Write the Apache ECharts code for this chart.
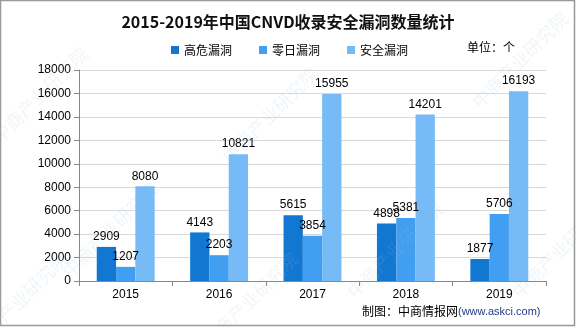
<!DOCTYPE html>
<html>
<head>
<meta charset="utf-8">
<script src="https://cdn.jsdelivr.net/npm/echarts@6/dist/echarts.min.js"></script>
<style>
  html, body { margin: 0; padding: 0; background: #fff; }
  #chart { width: 576px; height: 327px; }
</style>
</head>
<body>
<div id="chart"></div>
<script>
// CNVD vulnerability counts by year
const years = ['2015', '2016', '2017', '2018', '2019'];
const highRisk = [2909, 4143, 5615, 4898, 1877];
const zeroDay = [1207, 2203, 3854, 5381, 5706];
const security = [8080, 10821, 15955, 14201, 16193];
const seriesNames = ['高危漏洞', '零日漏洞', '安全漏洞'];
const colors = ['#1177d1', '#419ef0', '#76baf6'];

const font = '"Noto Sans CJK SC", "Liberation Sans", sans-serif';

function makeSeries(name, values, color) {
  return {
    name: name,
    type: 'bar',
    data: values,
    itemStyle: { color: color },
    barGap: '0%',
    barCategoryGap: '38%',
    label: {
      show: true,
      position: 'top',
      distance: 4,
      color: '#000',
      fontSize: 12,
      fontFamily: '"Liberation Sans", sans-serif'
    }
  };
}

// faint diagonal watermark texts
const marks = [];
const markSpots = [[40, 95], [270, 115], [520, 60], [110, 230], [395, 250], [560, 250], [250, 300], [20, 300]];
markSpots.forEach(function (p) {
  marks.push({
    type: 'text',
    x: p[0], y: p[1],
    rotation: Math.PI / 4,
    style: {
      text: '中商产业研究院',
      fill: 'rgba(160,190,220,0.16)',
      font: '18px ' + font,
      textAlign: 'center',
      textVerticalAlign: 'middle'
    },
    z: 100
  });
});

const chart = echarts.init(document.getElementById('chart'));
chart.setOption({
  animation: false,
  backgroundColor: '#fff',
  title: {
    text: '2015-2019年中国CNVD收录安全漏洞数量统计',
    left: 'center',
    top: 9,
    textStyle: { fontSize: 16, fontWeight: 'bold', color: '#111', fontFamily: font }
  },
  legend: {
    data: seriesNames,
    left: 166,
    top: 39,
    itemWidth: 8,
    itemHeight: 8,
    itemGap: 27,
    icon: 'rect',
    textStyle: { fontSize: 12, color: '#000', fontFamily: font }
  },
  grid: { left: 79, right: 30, top: 70, bottom: 46 },
  xAxis: {
    type: 'category',
    data: years,
    axisLine: { lineStyle: { color: '#888' } },
    axisTick: { show: true, length: 5, lineStyle: { color: '#888' } },
    axisLabel: { color: '#000', fontSize: 12, margin: 8, fontFamily: '"Liberation Sans", sans-serif' }
  },
  yAxis: {
    type: 'value',
    min: 0,
    max: 18000,
    interval: 2000,
    axisLine: { show: true, lineStyle: { color: '#888' } },
    axisTick: { show: true, inside: false, length: 5, lineStyle: { color: '#888' } },
    axisLabel: {
      color: '#000', fontSize: 12, margin: 8,
      fontFamily: '"Liberation Sans", sans-serif',
      formatter: function (v) { return String(v); }
    },
    splitLine: { lineStyle: { color: '#d9d9d9' } }
  },
  series: [
    makeSeries(seriesNames[0], highRisk, colors[0]),
    makeSeries(seriesNames[1], zeroDay, colors[1]),
    makeSeries(seriesNames[2], security, colors[2])
  ],
  graphic: [
    {
      type: 'rect',
      shape: { x: 0.5, y: 0.5, width: 574, height: 325 },
      style: { fill: 'none', stroke: '#999', lineWidth: 1.5 },
      silent: true
    },
    {
      type: 'text',
      left: 467,
      top: 41,
      style: { text: '单位：个', fill: '#000', font: '12px ' + font }
    },
    {
      type: 'text',
      left: 362,
      top: 305,
      style: { text: '制图：中商情报网', fill: '#000', font: '12px ' + font }
    },
    {
      type: 'text',
      left: 458,
      top: 306,
      style: { text: '(www.askci.com)', fill: '#1f3c88', font: '11px "Liberation Sans", sans-serif' }
    }
  ].concat(marks)
});
</script>
</body>
</html>
